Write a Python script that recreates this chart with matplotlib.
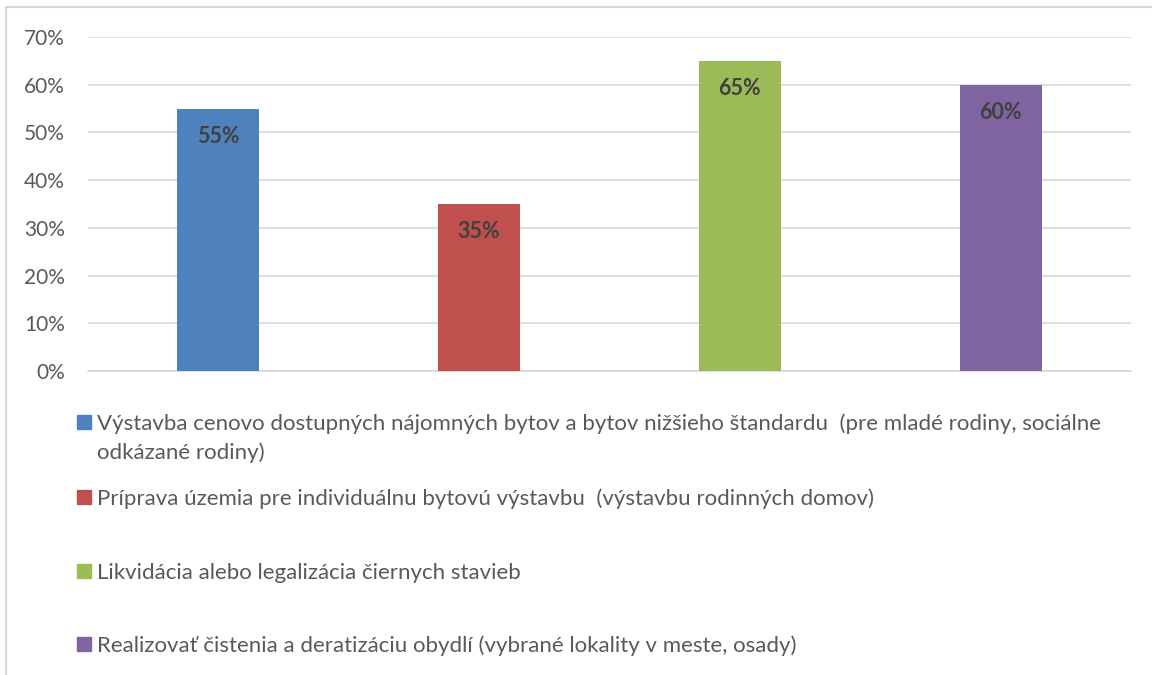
import matplotlib
matplotlib.use('Agg')
import matplotlib.pyplot as plt
from matplotlib.patches import Rectangle
from matplotlib.ticker import PercentFormatter

plt.rcParams['font.family'] = ['Lato', 'DejaVu Sans']

# ---- data ------------------------------------------------------------
categories = [
    'Výstavba cenovo dostupných nájomných bytov a bytov nižšieho štandardu  (pre mladé rodiny, sociálne\nodkázané rodiny)',
    'Príprava územia pre individuálnu bytovú výstavbu  (výstavbu rodinných domov)',
    'Likvidácia alebo legalizácia čiernych stavieb',
    'Realizovať čistenia a deratizáciu obydlí (vybrané lokality v meste, osady)',
]
values = [55, 35, 65, 60]
colors = ['#4F81BD', '#C0504D', '#9BBB59', '#8064A2']
yticks = [0, 10, 20, 30, 40, 50, 60, 70]

W, H = 1152, 675
TEXT = '#595959'
fig = plt.figure(figsize=(W / 100, H / 100), dpi=100)

# outer chart border (light gray, runs off right/bottom)
fig.patches.append(Rectangle((6 / W, -0.01), 1.02, 1 - 7 / H + 0.01,
                             transform=fig.transFigure, fill=False,
                             edgecolor='#D9D9D9', linewidth=1.5))

ax = fig.add_axes([88 / W, 1 - 371 / H, (1131 - 88) / W, (371 - 37) / H])
x = range(len(values))
bars = ax.bar(x, values, width=0.315, color=colors, zorder=3)

ax.set_xlim(-0.5, len(values) - 0.5)
ax.set_ylim(0, 70)
ax.set_yticks(yticks)
ax.yaxis.set_major_formatter(PercentFormatter(decimals=0))
ax.set_xticks([])
ax.grid(axis='y', color='#D9D9D9', linewidth=1.2, zorder=0)
for s in ('top', 'right', 'left'):
    ax.spines[s].set_visible(False)
ax.spines['bottom'].set_color('#D9D9D9')
ax.spines['bottom'].set_linewidth(1.2)
ax.tick_params(axis='y', length=0, pad=16.5, labelsize=15, labelcolor=TEXT)

for b, v in zip(bars, values):
    ax.annotate(f'{v}%', (b.get_x() + b.get_width() / 2, v),
                xytext=(0, -28), textcoords='offset pixels',
                ha='center', va='center', fontsize=15.5, fontweight='bold',
                color='#404040', zorder=4)

# legend, laid out like the Excel legend below the plot
legend_y = [422, 497, 571, 644]
for lbl, c, yy in zip(categories, colors, legend_y):
    fig.patches.append(Rectangle((77 / W, 1 - (yy + 7) / H), 14 / W, 14 / H,
                                 transform=fig.transFigure, color=c))
    first = lbl.split('\n')[0]
    fig.text(97 / W, 1 - yy / H, first, ha='left', va='center_baseline',
             fontsize=16, color=TEXT)
    for k, extra in enumerate(lbl.split('\n')[1:], start=1):
        fig.text(97 / W, 1 - (yy + 29 * k) / H, extra, ha='left',
                 va='center_baseline', fontsize=16, color=TEXT)

fig.savefig('out.png', dpi=100)
